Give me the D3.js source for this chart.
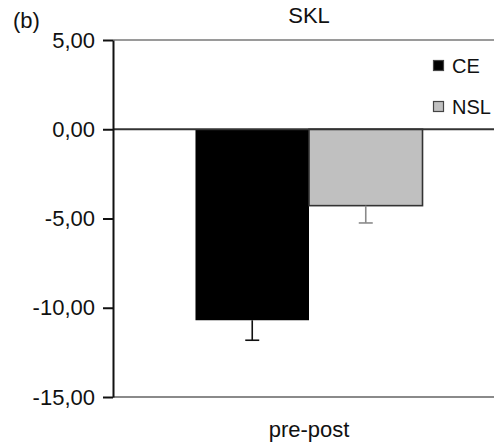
<!DOCTYPE html>
<html>
<head>
<meta charset="utf-8">
<script src="https://cdn.jsdelivr.net/npm/d3@7"></script>
<style>
  html, body { margin: 0; padding: 0; background: #fff; }
  svg { display: block; font-family: "Liberation Sans", Arial, sans-serif; }
</style>
</head>
<body>
<svg id="chart" width="494" height="445"></svg>
<script>
// ---- data ----
const panelLabel = "(b)";
const chartTitle = "SKL";
const categories = ["pre-post"];
const seriesNames = ["CE", "NSL"];
const seriesValues = [-10.7, -4.28];   // mean change
const seriesErrors = [1.12, 0.97];     // error bar length
const seriesFills = ["#000000", "#c0c0c0"];
const errorColors = ["#111111", "#8a8a8a"];
const tickValues = [5, 0, -5, -10, -15];
const tickLabels = ["5,00", "0,00", "-5,00", "-10,00", "-15,00"];

// ---- layout ----
const svg = d3.select("#chart");
const plotLeft = 113, plotRight = 505, plotTop = 40, plotBottom = 397;

const y = d3.scaleLinear().domain([-15, 5]).range([plotBottom, plotTop]);
const x = d3.scaleBand().domain(categories).range([plotLeft, plotRight]).padding(0.2665);
const xs = d3.scaleBand().domain(seriesNames).range([0, x.bandwidth()]);

// top frame line
svg.append("line")
  .attr("x1", plotLeft).attr("x2", 494)
  .attr("y1", y(5)).attr("y2", y(5))
  .attr("stroke", "#9a9a9a").attr("stroke-width", 2);

// bottom frame line
svg.append("line")
  .attr("x1", plotLeft).attr("x2", 494)
  .attr("y1", y(-15)).attr("y2", y(-15))
  .attr("stroke", "#8a8a8a").attr("stroke-width", 2);

// bars
const g = svg.append("g");
categories.forEach(cat => {
  seriesNames.forEach((s, i) => {
    const v = seriesValues[i];
    const bx = x(cat) + xs(s);
    g.append("rect")
      .attr("x", bx)
      .attr("y", y(0))
      .attr("width", xs.bandwidth())
      .attr("height", y(v) - y(0))
      .attr("fill", seriesFills[i])
      .attr("stroke", i === 0 ? "#000" : "#333")
      .attr("stroke-width", i === 0 ? 0 : 1.6);
    const cx = bx + xs.bandwidth() / 2;
    g.append("line")
      .attr("x1", cx).attr("x2", cx)
      .attr("y1", y(v)).attr("y2", y(v - seriesErrors[i]))
      .attr("stroke", errorColors[i]).attr("stroke-width", 1.6);
    g.append("line")
      .attr("x1", cx - 7).attr("x2", cx + 7)
      .attr("y1", y(v - seriesErrors[i])).attr("y2", y(v - seriesErrors[i]))
      .attr("stroke", errorColors[i]).attr("stroke-width", 1.6);
  });
});

// zero line
svg.append("line")
  .attr("x1", plotLeft).attr("x2", 494)
  .attr("y1", y(0)).attr("y2", y(0))
  .attr("stroke", "#333").attr("stroke-width", 2);

// y axis
const yAxis = d3.axisLeft(y)
  .tickValues(tickValues)
  .tickFormat((d, i) => tickLabels[i])
  .tickSize(10)
  .tickSizeOuter(0)
  .tickPadding(8);
const ya = svg.append("g").attr("transform", `translate(${plotLeft},0)`).call(yAxis);
ya.select(".domain").attr("stroke", "#111").attr("stroke-width", 2);
ya.selectAll(".tick line").attr("stroke", "#111").attr("stroke-width", 2);
ya.selectAll(".tick text")
  .attr("font-size", 22)
  .attr("fill", "#111")
  .attr("font-family", "Liberation Sans, Arial, sans-serif");

// x category label
categories.forEach(cat => {
  svg.append("text")
    .attr("x", x(cat) + x.bandwidth() / 2)
    .attr("y", 437)
    .attr("text-anchor", "middle")
    .attr("font-size", 22)
    .attr("fill", "#111")
    .text(cat);
});

// title
svg.append("text")
  .attr("x", x(categories[0]) + x.bandwidth() / 2)
  .attr("y", 23)
  .attr("text-anchor", "middle")
  .attr("font-size", 22)
  .attr("fill", "#111")
  .text(chartTitle);

// panel label
svg.append("text")
  .attr("x", 13)
  .attr("y", 28)
  .attr("font-size", 22)
  .attr("fill", "#111")
  .text(panelLabel);

// legend
const legendY = [60, 101];
seriesNames.forEach((s, i) => {
  svg.append("rect")
    .attr("x", 433.5).attr("y", legendY[i] + 0.5)
    .attr("width", 10).attr("height", 10)
    .attr("fill", seriesFills[i])
    .attr("stroke", "#444").attr("stroke-width", 1.2);
  svg.append("text")
    .attr("x", 452)
    .attr("y", legendY[i] + 12.5)
    .attr("font-size", 20)
    .attr("fill", "#111")
    .text(s);
});
</script>
</body>
</html>
